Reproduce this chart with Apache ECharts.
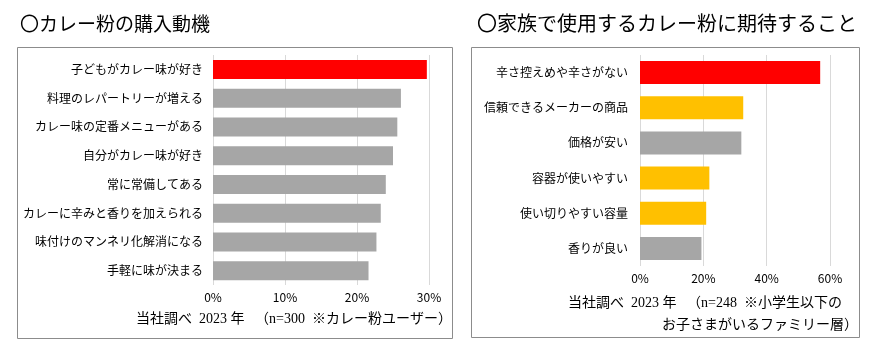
<!DOCTYPE html>
<html>
<head>
<meta charset="utf-8">
<script src="https://cdn.jsdelivr.net/npm/echarts@6/dist/echarts.min.js"></script>
<style>
html,body{margin:0;padding:0;background:#fff;}
#main{width:877px;height:350px;}
</style>
</head>
<body>
<div id="main"></div>
<script>
// 左：カレー粉の購入動機
var motiveCats = ['子どもがカレー味が好き','料理のレパートリーが増える','カレー味の定番メニューがある','自分がカレー味が好き','常に常備してある','カレーに辛みと香りを加えられる','味付けのマンネリ化解消になる','手軽に味が決まる'];
var motiveVals = [29.7,26.1,25.6,25.0,24.0,23.3,22.7,21.6];
var motiveColors = ['#FF0000','#A6A6A6','#A6A6A6','#A6A6A6','#A6A6A6','#A6A6A6','#A6A6A6','#A6A6A6'];

// 右：家族で使用するカレー粉に期待すること
var expectCats = ['辛さ控えめや辛さがない','信頼できるメーカーの商品','価格が安い','容器が使いやすい','使い切りやすい容量','香りが良い'];
var expectVals = [56.9,32.6,32.0,21.9,20.9,19.4];
var expectColors = ['#FF0000','#FFC000','#A6A6A6','#FFC000','#FFC000','#A6A6A6'];

var fontJP = '"Noto Sans CJK JP", sans-serif';
var fontNote = '"Liberation Serif", "Noto Sans CJK JP", serif';

function coloredData(vals,colors){
	var d = [];
	for(var i=0;i<vals.length;i++){
		d.push({value:vals[i],itemStyle:{color:colors[i]}});
	}
	return d;
}

function valueAxis(idx,max,interval){
	return {
		type:'value',gridIndex:idx,min:0,max:max,interval:interval,
		axisLabel:{formatter:'{value}%',color:'#000',fontSize:12,fontFamily:fontJP,margin:6},
		axisLine:{show:false},axisTick:{show:false},
		splitLine:{lineStyle:{color:'#D9D9D9',width:1}}
	};
}

function catAxis(idx,cats,margin){
	return {
		type:'category',gridIndex:idx,data:cats,inverse:true,
		axisLine:{show:false},axisTick:{show:false},
		axisLabel:{color:'#000',fontSize:12,fontFamily:fontJP,margin:margin}
	};
}

var myChart = echarts.init(document.getElementById('main'));
var option = {
	backgroundColor:'#fff',
	animation:false,
	title:[
		{text:'〇カレー粉の購入動機',left:15,top:9,textStyle:{fontSize:19,fontWeight:'normal',color:'#000',fontFamily:fontJP}},
		{text:'〇家族で使用するカレー粉に期待すること',left:472,top:8,textStyle:{fontSize:20,fontWeight:'normal',color:'#000',fontFamily:fontJP}}
	],
	grid:[
		{left:213,right:448,top:55,bottom:65},
		{left:640,right:47,top:55,bottom:84}
	],
	xAxis:[valueAxis(0,30,10),valueAxis(1,60,20)],
	yAxis:[catAxis(0,motiveCats,10),catAxis(1,expectCats,12)],
	series:[
		{type:'bar',xAxisIndex:0,yAxisIndex:0,barWidth:19,data:coloredData(motiveVals,motiveColors)},
		{type:'bar',xAxisIndex:1,yAxisIndex:1,barWidth:23,data:coloredData(expectVals,expectColors)}
	],
	graphic:[
		{type:'rect',shape:{x:17.5,y:47.5,width:435,height:291},style:{fill:'none',stroke:'#8C8C8C',lineWidth:1},z:-1},
		{type:'rect',shape:{x:471.5,y:47.5,width:388,height:290},style:{fill:'none',stroke:'#8C8C8C',lineWidth:1},z:-1},
		{type:'text',right:877-452,top:312,style:{text:'当社調べ  2023 年   （n=300  ※カレー粉ユーザー）',fill:'#000',font:'14px '+fontNote}},
		{type:'text',left:568,top:296,style:{text:'当社調べ  2023 年   （n=248  ※小学生以下の',fill:'#000',font:'14px '+fontNote}},
		{type:'text',right:877-858,top:318,style:{text:'お子さまがいるファミリー層）',fill:'#000',font:'14px '+fontNote}}
	]
};
myChart.setOption(option);
</script>
</body>
</html>
